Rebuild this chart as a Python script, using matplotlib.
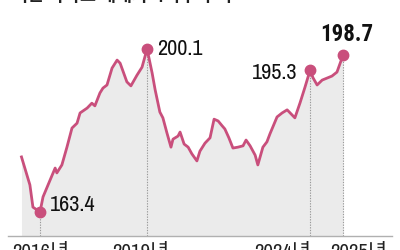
import matplotlib
matplotlib.use("Agg")
import matplotlib.pyplot as plt

# values (decimal year, index value)
years = [2015.45, 2015.70, 2015.79, 2016.00, 2016.09, 2016.30, 2016.45, 2016.50,
         2016.65, 2016.80, 2016.95, 2017.10, 2017.19, 2017.40, 2017.54, 2017.63,
         2017.78, 2017.87, 2017.99, 2018.14, 2018.29, 2018.38, 2018.58, 2018.70,
         2018.88, 2019.03, 2019.18, 2019.33, 2019.42, 2019.56, 2019.65, 2019.77,
         2019.89, 2019.95, 2020.10, 2020.16, 2020.28, 2020.40, 2020.51, 2020.66,
         2020.75, 2020.90, 2021.05, 2021.17, 2021.29, 2021.41, 2021.49, 2021.61,
         2021.73, 2021.88, 2022.03, 2022.12, 2022.24, 2022.39, 2022.47, 2022.62,
         2022.74, 2022.83, 2023.04, 2023.19, 2023.34, 2023.43, 2023.57, 2023.72,
         2023.87, 2024.02, 2024.11, 2024.23, 2024.38, 2024.67, 2024.82, 2025.00]
values = [175.8, 169.5, 164.5, 163.4, 166.8, 170.6, 173.3, 172.2,
          174.0, 178.0, 182.3, 183.4, 185.7, 186.8, 187.9, 187.3,
          190.2, 191.3, 192.0, 195.8, 197.6, 196.9, 192.7, 191.8,
          194.2, 196.0, 200.1, 194.7, 190.9, 185.9, 184.6, 181.2,
          178.0, 179.8, 180.5, 181.4, 178.7, 178.0, 176.5, 174.9,
          177.1, 178.9, 180.1, 184.3, 183.9, 182.8, 182.1, 180.1,
          177.8, 178.0, 178.3, 179.6, 178.3, 176.2, 174.0, 178.0,
          179.2, 181.0, 184.8, 185.7, 186.4, 185.7, 184.6, 187.9,
          191.5, 195.3, 193.6, 192.0, 193.1, 194.0, 194.9, 198.7]

# highlighted points
mark_idx = [3, 26, 65, 71]
mark_labels = ["2016년", "2019년", "2024년", "2025년"]

line_color = "#c94f7c"
fill_color = "#ebebeb"
ymin = 158.0
x0, px_per_yr = 2014.812, 33.67
num_font = ["Archivo Narrow", "Roboto Condensed", "Noto Sans CJK KR", "DejaVu Sans"]
bold_font = ["Roboto Condensed", "Archivo Narrow", "DejaVu Sans"]

fig = plt.figure(figsize=(4, 2.5), dpi=100)
ax = fig.add_axes([0, 0.056, 1, 0.944])
ax.set_xlim(x0, x0 + 400 / px_per_yr)
ax.set_ylim(ymin, 211.13)
ax.axis("off")

ax.fill_between(years, values, ymin, color=fill_color, lw=0, zorder=1)
ax.plot(years, values, color=line_color, lw=2.0, solid_joinstyle="round", zorder=3)

mx = [years[i] for i in mark_idx]
my = [values[i] for i in mark_idx]
ax.vlines(mx, ymin, my, colors="#9a9a9a", linestyles=(0, (1.2, 1.2)), lw=0.8, zorder=2)
ax.plot(mx, my, "o", color=line_color, ms=7.5, zorder=4)

# baseline
ax.plot([x0 + 8 / px_per_yr, x0 + 392 / px_per_yr], [ymin, ymin],
        color="#b0b0b0", lw=1.0, clip_on=False, zorder=2)

# value labels
ax.text(mx[0] + 0.3, my[0] + 1.6, f"{my[0]:.1f}", fontsize=16, family=num_font,
        ha="left", va="center", color="#111111", zorder=5)
ax.text(mx[1] + 0.3, my[1], f"{my[1]:.1f}", fontsize=16, family=num_font,
        ha="left", va="center", color="#111111", zorder=5)
ax.text(mx[2] - 0.38, my[2] - 0.5, f"{my[2]:.1f}", fontsize=16, family=num_font,
        ha="right", va="center", color="#111111", zorder=5)
ax.text(mx[3] + 0.12, my[3] + 4.6, f"{my[3]:.1f}", fontsize=16.5, family=bold_font,
        fontweight="bold", ha="center", va="center", color="#111111", zorder=5)

# year labels (cut off at the bottom edge like the reference), nudged apart
nudge = [0.03, -0.18, -0.8, 0.48]
for x, dx, lab in zip(mx, nudge, mark_labels):
    ax.text(x + dx, ymin - 1.6, lab, fontsize=15, family=num_font, ha="center", va="top",
            color="#222222", clip_on=False)

# title, mostly outside the top edge
fig.text(0.03, 1 - 1.0 / 250, "서울 아파트 매매가격지수 추이", fontsize=12.5, fontweight="bold",
         family=["Noto Sans CJK KR", "DejaVu Sans"], ha="left", va="baseline", color="#222222")

fig.savefig("out.png", dpi=100)
